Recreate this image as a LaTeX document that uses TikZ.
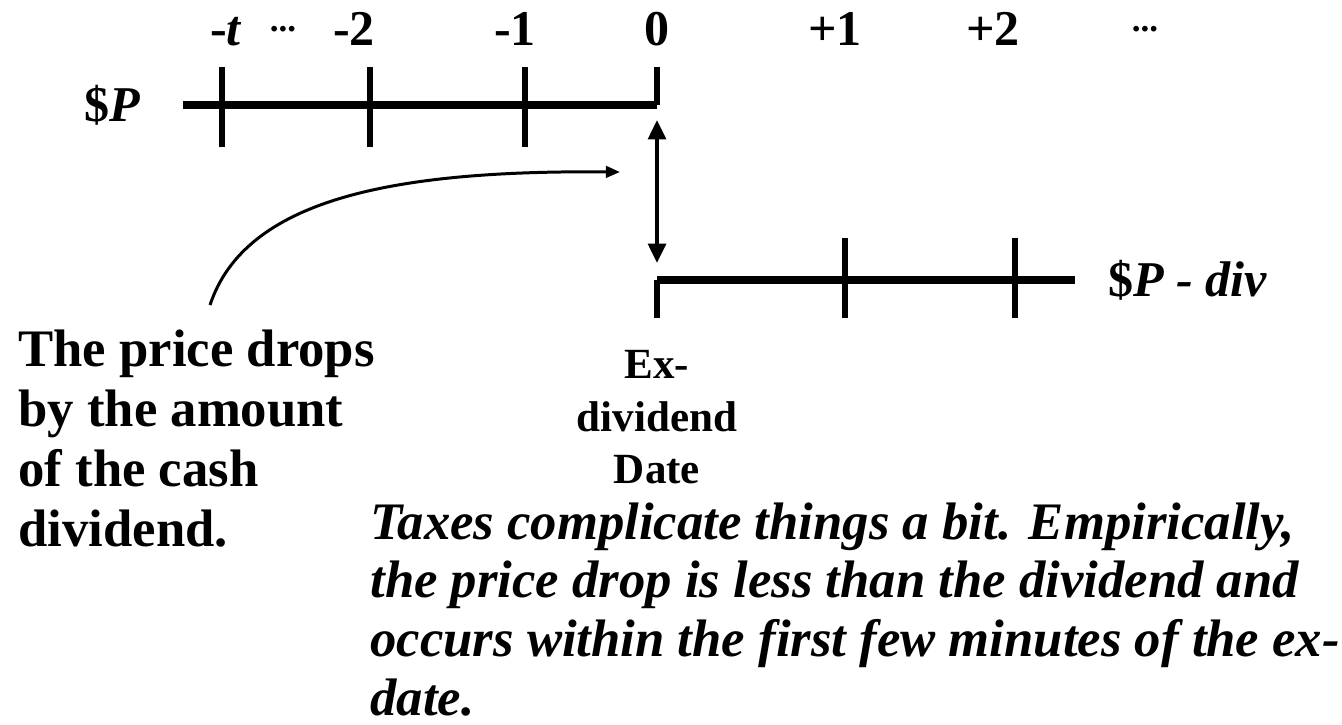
\documentclass[tikz,border=0pt]{standalone}
\usepackage{fontspec}
\setmainfont{Liberation Serif}
\usetikzlibrary{arrows.meta}

\begin{document}
\begin{tikzpicture}[
    axis/.style={line width=4.6pt},
    tick/.style={line width=3.8pt},
    lbl/.style={font=\fontsize{28.5}{30}\selectfont\bfseries, inner sep=0pt},
    dots/.style={font=\fontsize{20}{20}\selectfont\bfseries, inner sep=0pt},
    note/.style={font=\fontsize{30}{34}\selectfont\bfseries, align=left, inner sep=0pt},
    dblarrow/.style={{Triangle[length=11pt,width=10pt]}-{Triangle[length=11pt,width=10pt]}, line width=2.3pt},
    arrow/.style={-{Triangle[length=8pt,width=6.5pt]}, line width=1.7pt}
]
\useasboundingbox (0,0) rectangle (26.84,-14.48);

% upper timeline, price $P
\coordinate (upL) at (3.66,-2.1);
\coordinate (upR) at (13.14,-2.1);
\draw[axis] (upL) -- (upR);
\foreach \x in {4.44, 7.4, 10.5} {
  \draw[tick] (\x,-1.34) -- (\x,-2.94);
}
\draw[tick] (13.14,-1.34) -- (upR);

% lower timeline, price $P - div
\coordinate (loL) at (13.14,-5.6);
\coordinate (loR) at (21.5,-5.6);
\draw[axis] (loL) -- (loR);
\foreach \x in {16.9, 20.3} {
  \draw[tick] (\x,-4.76) -- (\x,-6.36);
}
\draw[tick] (loL) -- (13.14,-6.36);

% period labels
\node[lbl, anchor=base] (lt)   at (4.52,-0.9) {-\textit{t}};
\node[dots] (ldl)  at (5.66,-0.58) {...};
\node[lbl, anchor=base] (lm2)  at (7.08,-0.9) {-2};
\node[lbl, anchor=base] (lm1)  at (10.3,-0.9) {-1};
\node[lbl, anchor=base] (l0)   at (13.14,-0.9) {0};
\node[lbl, anchor=base] (lp1)  at (16.7,-0.9) {+1};
\node[lbl, anchor=base] (lp2)  at (19.86,-0.9) {+2};
\node[dots] (ldr)  at (22.9,-0.58) {...};

\node[lbl, anchor=base] (price) at (2.25,-2.42) {\$\textit{P}};
\node[lbl, anchor=base west] (pricediv) at (22.16,-5.92) {\$\textit{P - div}};

% drop between the two lines
\coordinate (gapTop) at (13.14,-2.4);
\coordinate (gapBot) at (13.14,-5.26);
\draw[dblarrow] (gapTop) -- (gapBot);

\node[note, font=\fontsize{24.5}{30}\selectfont\bfseries, align=center, anchor=north] (exdate) at (13.14,-7.0) {Ex-\\dividend\\Date};

\node[note, anchor=north west] (dropnote) at (0.36,-6.6) {The price drops\\by the amount\\of the cash\\dividend.};

\node[note, anchor=north west, font=\fontsize{30}{33.3}\selectfont\bfseries\itshape] (taxnote) at (7.4,-10.05)
  {Taxes complicate things a bit. Empirically,\\the price drop is less than the dividend and\\occurs within the first few minutes of the ex-\\date.};

\coordinate (dropTail) at (4.2,-6.1);
\coordinate (dropHead) at (12.4,-3.44);
\draw[arrow] (dropTail) .. controls (4.9,-4.0) and (7.8,-3.4) .. (dropHead);
\end{tikzpicture}
\end{document}
